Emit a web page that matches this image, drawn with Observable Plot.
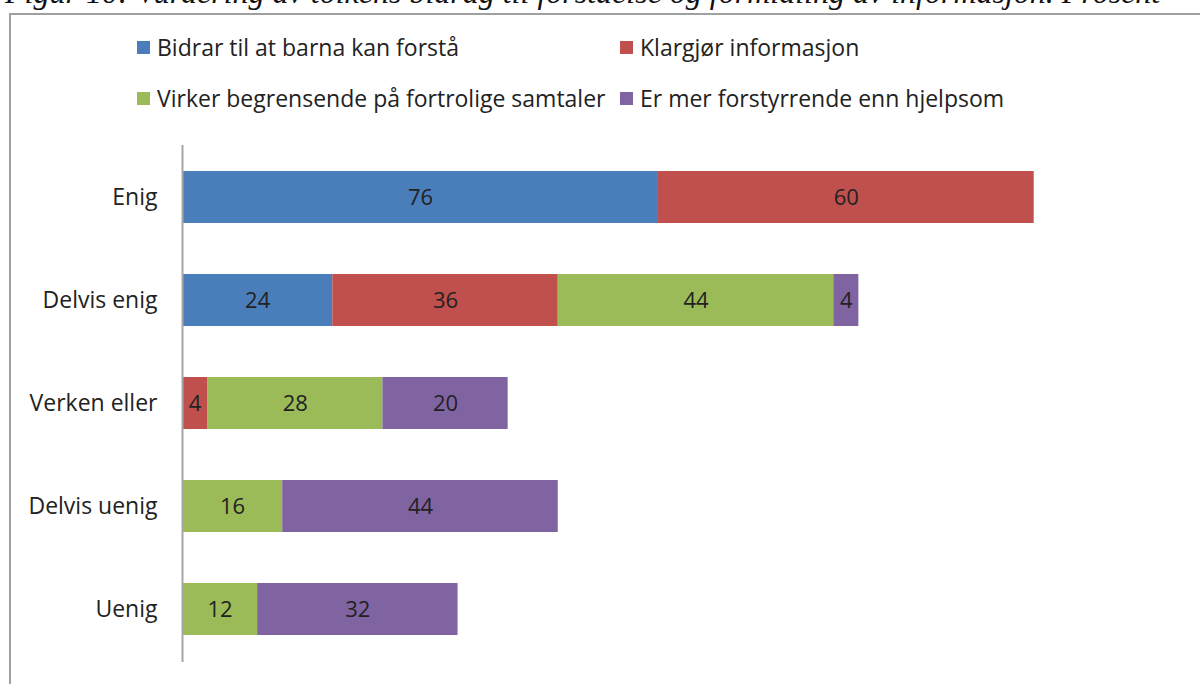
<!DOCTYPE html>
<html><head><meta charset="utf-8">
<script src="https://cdn.jsdelivr.net/npm/d3@7"></script>
<script src="https://cdn.jsdelivr.net/npm/@observablehq/plot@0.6"></script>
<style>
body{margin:0;background:#fff;}
#wrap{position:relative;width:1200px;height:684px;overflow:hidden;font-family:"Open Sans",sans-serif;}
#title{position:absolute;left:5px;top:-24px;line-height:33px;font-family:"Liberation Serif",serif;font-style:italic;font-size:32px;white-space:nowrap;color:#111;}
#frame{position:absolute;left:9px;top:13px;width:1300px;height:800px;border:2px solid #a0a0a0;box-sizing:border-box;}
#chart{position:absolute;left:0;top:0;}
.leg{position:absolute;font-size:23px;color:#222;white-space:nowrap;display:flex;align-items:center;}
.leg span.sw{display:inline-block;width:13px;height:13px;margin-right:7px;}
</style></head>
<body><div id="wrap">
<div id="title">Figur 10: Vurdering av tolkens bidrag til forståelse og formidling av informasjon. Prosent</div>
<div id="frame"></div>
<div id="chart"></div>
<div id="legend"></div>
</div>
<script>
const categories = ["Enig", "Delvis enig", "Verken eller", "Delvis uenig", "Uenig"];
const seriesNames = ["Bidrar til at barna kan forstå", "Klargjør informasjon", "Virker begrensende på fortrolige samtaler", "Er mer forstyrrende enn hjelpsom"];
const colors = ["#4A7EBB", "#C0504D", "#9BBB59", "#8064A2"];
const bidrar = [76, 24, 0, 0, 0];
const klargjor = [60, 36, 4, 0, 0];
const virker = [0, 44, 28, 16, 12];
const forstyrrende = [0, 4, 20, 44, 32];

const seriesValues = [bidrar, klargjor, virker, forstyrrende];
const data = [];
categories.forEach((c, i) => {
  seriesValues.forEach((vals, s) => {
    if (vals[i] > 0) data.push({cat: c, series: seriesNames[s], value: vals[i]});
  });
});

const plot = Plot.plot({
  width: 1200,
  height: 684,
  marginLeft: 182,
  marginRight: 16,
  marginTop: 145,
  marginBottom: 22,
  style: {fontFamily: "'Open Sans', sans-serif", background: "transparent"},
  x: {domain: [0, 160], axis: null},
  y: {domain: categories, paddingInner: 0.495, paddingOuter: 0.25, label: null},
  color: {domain: seriesNames, range: colors},
  marks: [
    Plot.barX(data, Plot.stackX({x: "value", y: "cat", fill: "series", z: "series", order: seriesNames})),
    Plot.text(data, Plot.stackX({x: "value", y: "cat", z: "series", order: seriesNames, text: d => String(d.value), fill: "#222", fontSize: 22})),
    Plot.ruleX([0], {stroke: "#a6a6a6", strokeWidth: 2}),
    Plot.axisY({tickSize: 0, tickPadding: 25, fontSize: 23, color: "#222", label: null})
  ]
});
document.getElementById("chart").appendChild(plot);

const legPos = [[137, 47], [620, 47], [137, 98], [620, 98]];
const leg = document.getElementById("legend");
seriesNames.forEach((n, i) => {
  const d = document.createElement("div");
  d.className = "leg";
  d.style.left = legPos[i][0] + "px";
  d.style.top = (legPos[i][1] - 16) + "px";
  d.style.height = "32px";
  d.innerHTML = `<span class="sw" style="background:${colors[i]}"></span>${n}`;
  leg.appendChild(d);
});
</script>
</body></html>
